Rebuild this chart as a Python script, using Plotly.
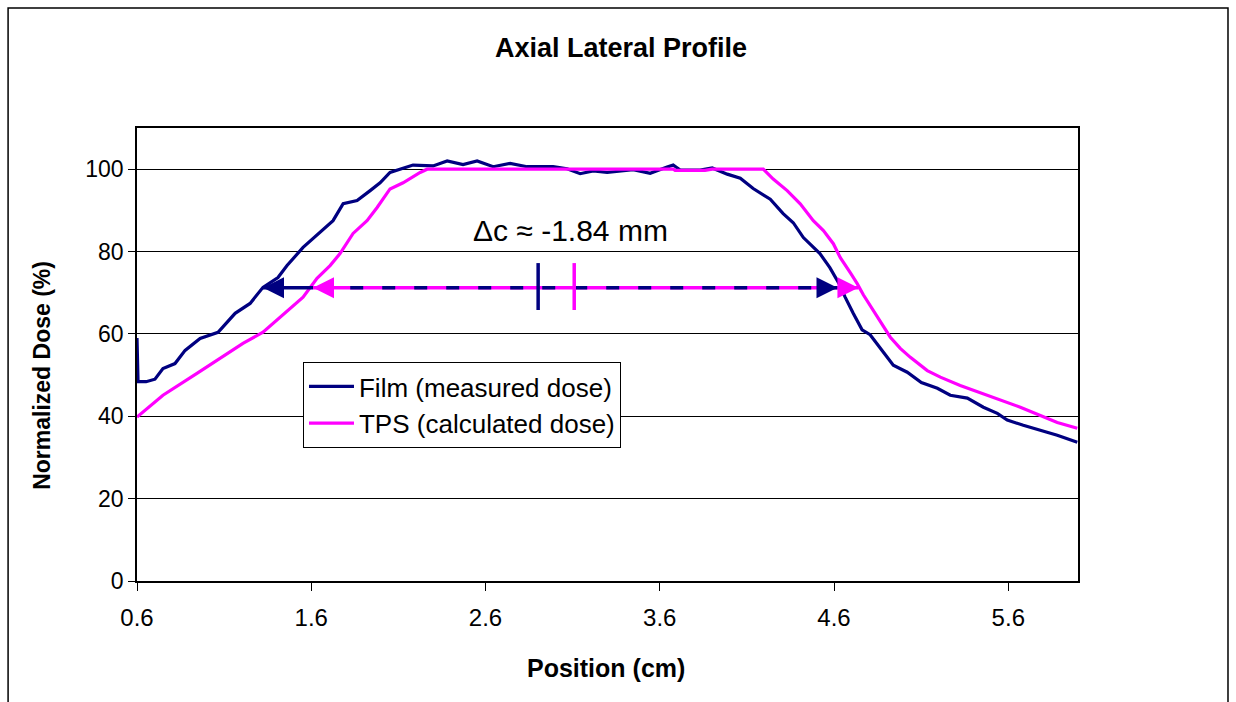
import plotly.graph_objects as go

# ---- data ----
film_x = [0.600, 0.606, 0.652, 0.703, 0.749, 0.818, 0.876, 0.962, 1.065, 1.163, 1.249, 1.323,
          1.409, 1.461, 1.553, 1.651, 1.725, 1.783, 1.863, 1.938, 1.995, 2.052, 2.110, 2.184,
          2.299, 2.380, 2.471, 2.552, 2.644, 2.741, 2.839, 2.988, 3.068, 3.143, 3.218, 3.298,
          3.447, 3.545, 3.642, 3.677, 3.717, 3.832, 3.901, 3.987, 4.062, 4.136, 4.234, 4.308,
          4.366, 4.424, 4.519, 4.576, 4.634, 4.663, 4.710, 4.761, 4.807, 4.865, 4.940, 5.020,
          5.101, 5.193, 5.267, 5.365, 5.457, 5.537, 5.594, 5.686, 5.784, 5.881, 5.996]
film_y = [59.0, 48.4, 48.4, 49.0, 51.6, 52.8, 56.0, 58.9, 60.4, 65.0, 67.4, 71.3,
          73.7, 76.6, 81.0, 84.6, 87.5, 91.6, 92.4, 94.8, 96.7, 99.2, 100.0, 101.0,
          100.8, 102.0, 101.1, 102.0, 100.6, 101.4, 100.6, 100.6, 100.1, 98.9, 99.6, 99.2,
          99.9, 99.0, 100.5, 101.0, 99.8, 99.8, 100.3, 98.8, 97.8, 95.3, 92.7, 89.2,
          87.0, 83.4, 79.5, 76.1, 71.8, 69.0, 65.0, 61.0, 59.8, 56.5, 52.4, 50.7,
          48.2, 46.8, 45.1, 44.4, 42.2, 40.7, 39.1, 37.8, 36.6, 35.4, 33.7]

tps_x = [0.600, 0.749, 0.944, 1.059, 1.208, 1.323, 1.409, 1.553, 1.633, 1.708, 1.765, 1.840,
         1.920, 1.978, 2.052, 2.127, 2.225, 2.265, 3.677, 3.688, 3.860, 3.901, 4.194, 4.251,
         4.331, 4.406, 4.481, 4.539, 4.596, 4.636, 4.694, 4.733, 4.768, 4.848, 4.923, 4.980,
         5.038, 5.135, 5.210, 5.324, 5.439, 5.554, 5.669, 5.784, 5.881, 5.996]
tps_y = [39.8, 45.1, 50.4, 53.6, 57.7, 60.4, 63.6, 68.9, 73.5, 76.6, 79.5, 84.4,
         87.5, 90.7, 95.2, 96.7, 99.2, 100.0, 100.0, 99.7, 99.7, 100.0, 100.0, 97.6,
         94.8, 91.6, 87.5, 85.1, 81.9, 78.5, 74.8, 72.2, 69.5, 64.0, 59.2, 56.5,
         54.3, 51.1, 49.5, 47.5, 45.8, 43.9, 42.2, 40.2, 38.5, 37.1]

x_ticks = [0.6, 1.6, 2.6, 3.6, 4.6, 5.6]
x_tick_labels = ["0.6", "1.6", "2.6", "3.6", "4.6", "5.6"]
y_ticks = [0, 20, 40, 60, 80, 100]

# annotation geometry (data units)
arrow_y = 71.2
film_edges = [1.323, 4.62]
tps_edges = [1.61, 4.74]
film_center = 2.902
tps_center = 3.109
center_tick = [65.8, 77.2]
delta_label = "Δc ≈ -1.84 mm"
delta_pos = [3.086, 85.0]

NAVY = "#000080"
MAGENTA = "#FF00FF"
FONT = "Liberation Sans, Arial, sans-serif"

fig = go.Figure()
fig.add_trace(go.Scatter(x=film_x, y=film_y, mode="lines", name="Film (measured dose)",
                         line=dict(color=NAVY, width=3.2)))
fig.add_trace(go.Scatter(x=tps_x, y=tps_y, mode="lines", name="TPS (calculated dose)",
                         line=dict(color=MAGENTA, width=3.2)))

shapes = [
    # outer chart border
    dict(type="rect", xref="paper", yref="paper", x0=-0.137, x1=1.1594, y0=-0.35, y1=1.265,
         line=dict(color="black", width=1.5), layer="below"),
    # navy solid part left of magenta arrow
    dict(type="line", x0=film_edges[0], x1=tps_edges[0], y0=arrow_y, y1=arrow_y,
         line=dict(color=NAVY, width=3.5)),
    # magenta solid line
    dict(type="line", x0=tps_edges[0], x1=tps_edges[1], y0=arrow_y, y1=arrow_y,
         line=dict(color=MAGENTA, width=3.5)),
    # navy dashed over magenta
    dict(type="line", x0=tps_edges[0] + 0.03, x1=film_edges[1], y0=arrow_y, y1=arrow_y,
         line=dict(color=NAVY, width=3.5, dash="13px,19px")),
    # center markers
    dict(type="line", x0=film_center, x1=film_center, y0=center_tick[0], y1=center_tick[1],
         line=dict(color=NAVY, width=3.5)),
    dict(type="line", x0=tps_center, x1=tps_center, y0=center_tick[0], y1=center_tick[1],
         line=dict(color=MAGENTA, width=3.5)),
]

annotations = []
def head(xtip, xtail, color):
    annotations.append(dict(x=xtip, y=arrow_y, ax=xtail, ay=arrow_y, xref="x", yref="y",
                            axref="x", ayref="y", text="", showarrow=True, arrowhead=2,
                            arrowsize=1.4, arrowwidth=3, arrowcolor=color, standoff=0))

head(film_edges[0], film_edges[0] + 0.05, NAVY)
head(film_edges[1], film_edges[1] - 0.05, NAVY)
head(tps_edges[0], tps_edges[0] + 0.05, MAGENTA)
head(tps_edges[1], tps_edges[1] - 0.05, MAGENTA)

annotations.append(dict(x=delta_pos[0], y=delta_pos[1], xref="x", yref="y", text=delta_label,
                        showarrow=False, font=dict(size=30, color="black", family=FONT)))
annotations.append(dict(x=0.498, y=-0.192, xref="paper", yref="paper", text="<b>Position (cm)</b>",
                        xanchor="center", yanchor="middle",
                        showarrow=False, font=dict(size=25, color="black", family=FONT)))
annotations.append(dict(x=-0.101, y=0.455, xref="paper", yref="paper",
                        text="<b>Normalized Dose (%)</b>", textangle=-90,
                        xanchor="center", yanchor="middle",
                        showarrow=False, font=dict(size=23, color="black", family=FONT)))

fig.update_layout(
    width=1236, height=702,
    margin=dict(l=137, r=158, t=128, b=121),
    paper_bgcolor="white", plot_bgcolor="white",
    font=dict(family=FONT, color="black"),
    title=dict(text="<b>Axial Lateral Profile</b>", x=0.5024, xanchor="center",
               y=0.9316, yanchor="middle", font=dict(size=27, family=FONT, color="black")),
    shapes=shapes, annotations=annotations,
    legend=dict(x=0.1764, y=0.4834, xanchor="left", yanchor="top",
                bordercolor="black", borderwidth=1, bgcolor="white", itemwidth=45,
                font=dict(size=26, family=FONT, color="black")),
    showlegend=True,
)
fig.update_xaxes(range=[0.6, 6.0], tickvals=x_ticks, ticktext=x_tick_labels,
                 showgrid=False, zeroline=False, showline=True, linecolor="black", linewidth=1.5,
                 mirror=True, ticks="outside", ticklen=8, tickcolor="black",
                 ticklabelstandoff=6,
                 tickfont=dict(size=24, family=FONT, color="black"))
fig.update_yaxes(range=[0, 110], tickvals=y_ticks, showgrid=True, gridcolor="black", gridwidth=1,
                 zeroline=False, showline=True, linecolor="black", linewidth=1.5, mirror=True,
                 ticks="outside", ticklen=7, tickcolor="black",
                 tickfont=dict(size=23, family=FONT, color="black"))

fig.write_html("out.html")
